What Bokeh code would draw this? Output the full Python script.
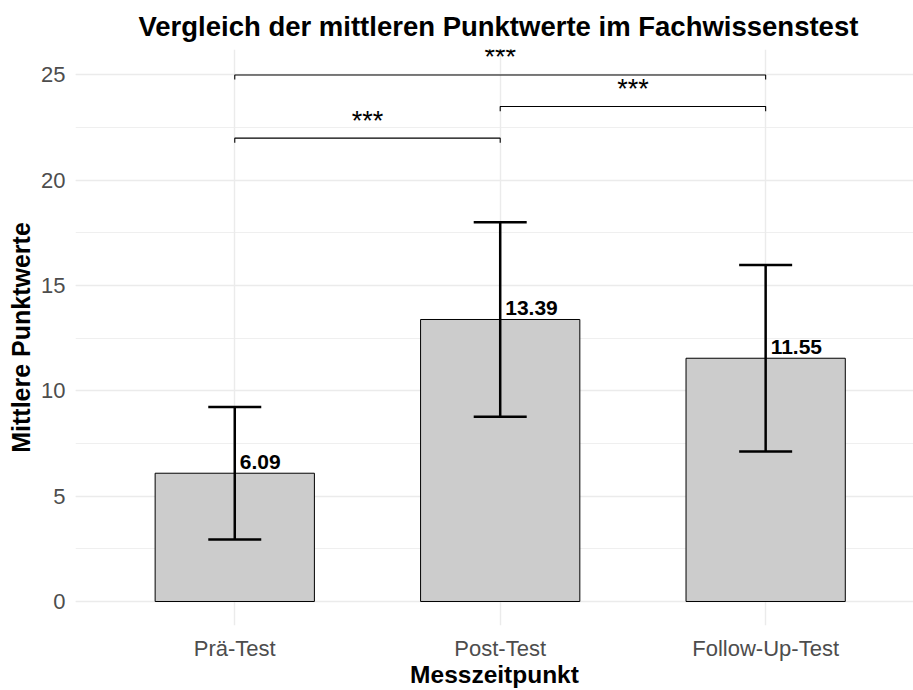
from bokeh.plotting import figure
from bokeh.models import (Range1d, FixedTicker, SingleIntervalTicker, ColumnDataSource,
                          Whisker, TeeHead)
from bokeh.embed import file_html
from bokeh.resources import INLINE
from bokeh.core.properties import value

# ---- data ----
categories = ["Prä-Test", "Post-Test", "Follow-Up-Test"]
means = [6.09, 13.39, 11.55]
sds = [3.15, 4.62, 4.43]
mean_labels = ["6.09", "13.39", "11.55"]
y_ticks = [0, 5, 10, 15, 20, 25]

# significance comparisons
comp_from = [0, 1, 0]
comp_to = [1, 2, 2]
comp_y = [22.0, 23.5, 25.0]
comp_labels = ["***", "***", "***"]

FONT = "Liberation Sans"
TIP = 0.22

xpos = [i + 1 for i in range(len(categories))]

p = figure(width=913, height=690, output_backend="svg", toolbar_location=None,
           x_range=Range1d(0.4, 3.557), y_range=Range1d(-1.14, 26.21),
           min_border_left=75, min_border_right=0, min_border_top=49, min_border_bottom=10)
p.background_fill_color = "white"
p.border_fill_color = "white"
p.outline_line_color = None

# title
p.title.text = "Vergleich der mittleren Punktwerte im Fachwissenstest"
p.title.text_font = FONT
p.title.text_font_size = "27.5px"
p.title.text_font_style = "bold"
p.title.text_color = "black"
p.title.align = "left"
p.title.offset = 63
p.title.standoff = 16

# axes
p.xaxis.ticker = FixedTicker(ticks=xpos)
p.xaxis.major_label_overrides = {x: c for x, c in zip(xpos, categories)}
p.yaxis.ticker = SingleIntervalTicker(interval=5, num_minor_ticks=2)
for ax in (p.xaxis, p.yaxis):
    ax.axis_line_color = None
    ax.major_tick_line_color = None
    ax.minor_tick_line_color = None
    ax.major_tick_out = 0
    ax.major_tick_in = 0
    ax.minor_tick_out = 0
    ax.major_label_text_font = FONT
    ax.major_label_text_font_size = "22px"
    ax.major_label_text_color = "#4D4D4D"
    ax.axis_label_text_font = FONT
    ax.axis_label_text_font_style = "bold"
    ax.axis_label_text_color = "black"
p.xaxis.axis_label = "Messzeitpunkt"
p.yaxis.axis_label = "Mittlere Punktwerte"
p.xaxis.axis_label_text_font_size = "24.5px"
p.yaxis.axis_label_text_font_size = "25px"
p.xaxis.major_label_standoff = 10
p.xaxis.axis_label_standoff = -3
p.yaxis.major_label_standoff = 10
p.yaxis.axis_label_standoff = 3

# grid
p.xgrid.ticker = FixedTicker(ticks=xpos)
p.xgrid.grid_line_color = "#EBEBEB"
p.xgrid.grid_line_width = 1.4
p.ygrid.grid_line_color = "#EBEBEB"
p.ygrid.grid_line_width = 1.4
p.ygrid.minor_grid_line_color = "#EBEBEB"
p.ygrid.minor_grid_line_width = 0.8

src = ColumnDataSource(dict(
    x=xpos, mean=means, label=mean_labels,
    lower=[m - s for m, s in zip(means, sds)],
    upper=[m + s for m, s in zip(means, sds)],
))

p.vbar(x="x", top="mean", bottom=0, width=0.6, source=src,
       fill_color="#CCCCCC", line_color="black", line_width=1)

wh = Whisker(base="x", lower="lower", upper="upper", source=src,
             line_width=2.5, line_color="black", level="overlay",
             upper_head=TeeHead(size=53, line_width=2.5, line_color="black"),
             lower_head=TeeHead(size=53, line_width=2.5, line_color="black"))
p.add_layout(wh)

p.text(x="x", y="mean", text="label", source=src, x_offset=5, y_offset=-11,
       text_font=value(FONT), text_font_size="21px", text_font_style="bold",
       text_color="black", text_align="left", text_baseline="alphabetic")

# significance brackets
bx, by, mx = [], [], []
for a, b, y in zip(comp_from, comp_to, comp_y):
    x1, x2 = xpos[a], xpos[b]
    bx.append([x1, x1, x2, x2])
    by.append([y - TIP, y, y, y - TIP])
    mx.append((x1 + x2) / 2)
p.multi_line(xs=bx, ys=by, line_color="black", line_width=1.1)
p.text(x=mx, y=comp_y, text=comp_labels, y_offset=-17.5,
       text_font=value(FONT), text_font_size="27px", text_color="black",
       text_align="center", text_baseline="alphabetic")

open("out.html", "w", encoding="utf-8").write(file_html(p, INLINE))
